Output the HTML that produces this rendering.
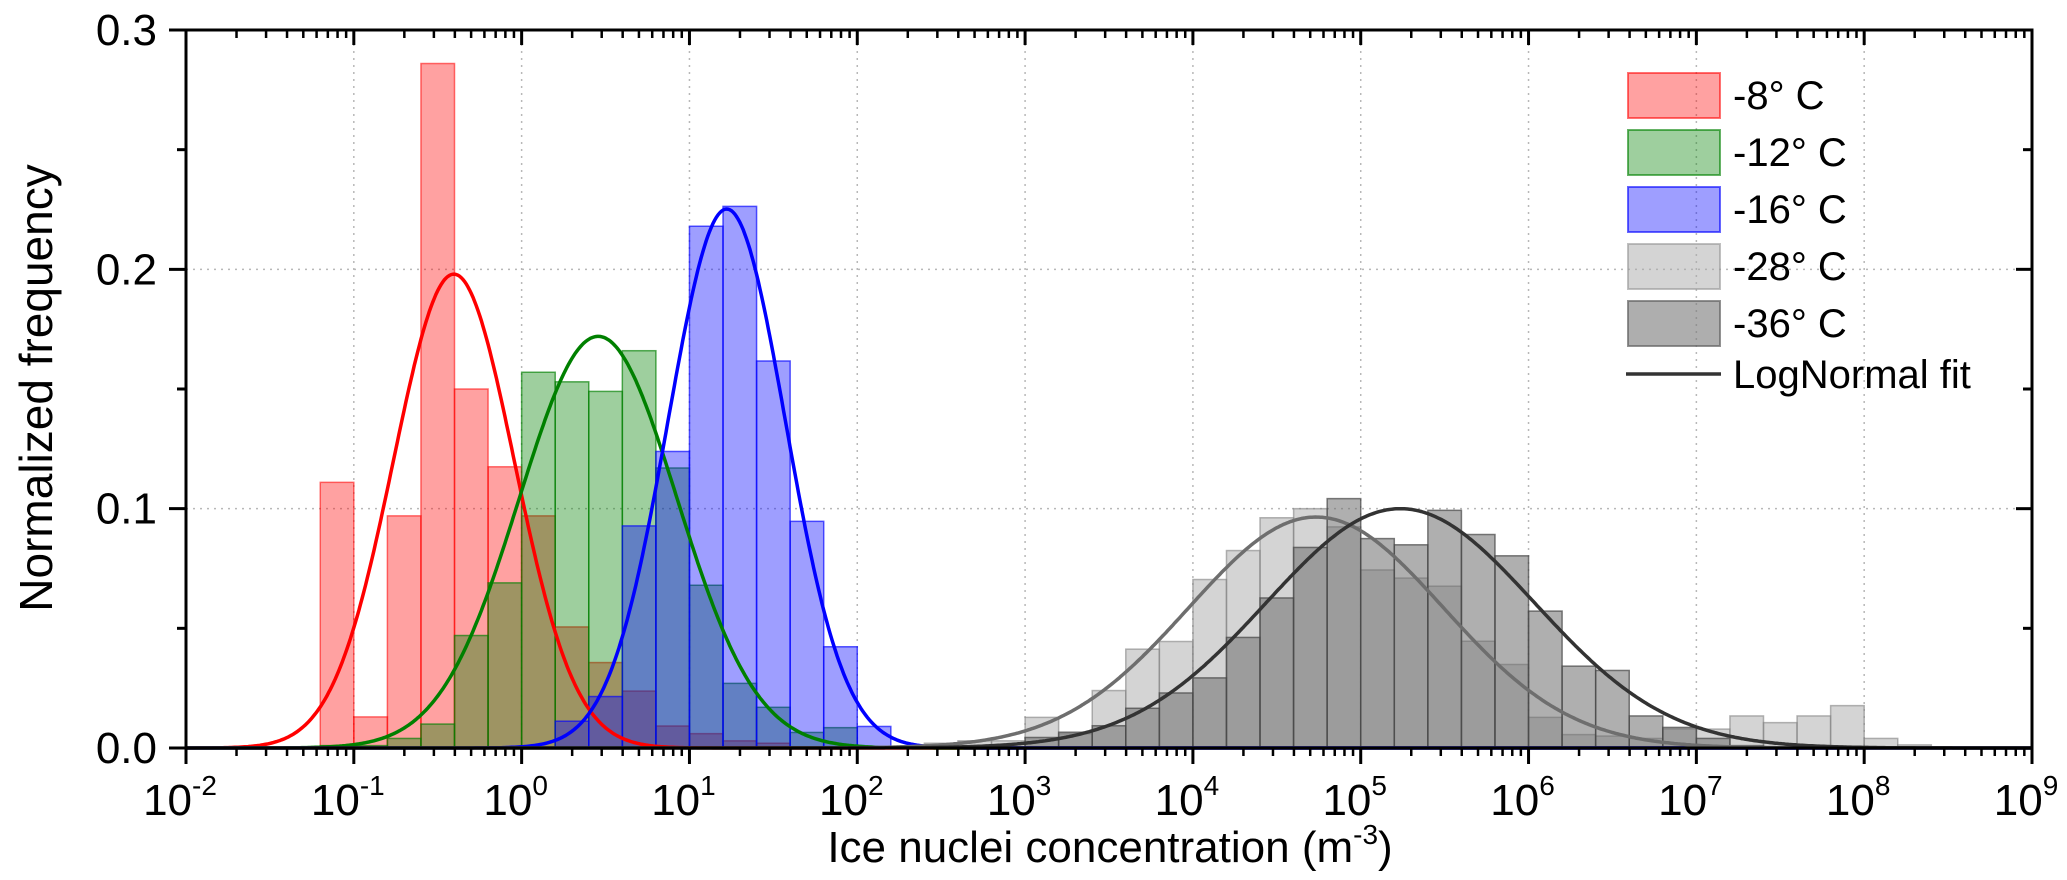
<!DOCTYPE html>
<html><head><meta charset="utf-8"><style>
html,body{margin:0;padding:0;background:#fff;}
svg{display:block;font-family:"Liberation Sans",Arial,sans-serif;}
</style></head><body>
<svg id="chart" width="2067" height="880" viewBox="0 0 2067 880" xmlns="http://www.w3.org/2000/svg">
<g id="grid"></g>
<g id="bars"></g>
<g id="fits"></g>
<g id="axes"></g>
<text transform="translate(52,388) rotate(-90)" text-anchor="middle" font-size="46">Normalized frequency</text>
<text x="1110" y="862" text-anchor="middle" font-size="44">Ice nuclei concentration (m<tspan font-size="28" dy="-18">-3</tspan><tspan dy="18">)</tspan></text>
<g id="legend"></g>
</svg>
<script>
// ---- data ----
const binWidth = 0.2; // log10 decades per bin
const redStart = -1.2;
const redValues = [0.111,0.013,0.097,0.286,0.150,0.1175,0.097,0.0506,0.0357,0.0238,0.0092,0.006,0.003,0.002];
const greenStart = -1.2;
const greenValues = [0.001,0.001,0.004,0.010,0.047,0.069,0.157,0.153,0.149,0.166,0.117,0.068,0.027,0.017,0.0065,0.0085];
const blueStart = 0.2;
const blueValues = [0.0112,0.0215,0.0928,0.1239,0.218,0.2263,0.1617,0.0947,0.0423,0.009];
const g28Start = 2.4;
const g28Values = [0.002,0.003,0.003,0.0128,0.006,0.024,0.0413,0.0445,0.0704,0.0825,0.0962,0.1,0.0924,0.0744,0.071,0.0676,0.0446,0.0349,0.0128,0.0056,0.005,0.004,0.008,0.0079,0.0134,0.0106,0.0134,0.0177,0.004,0.0013];
const g36Start = 3.0;
const g36Values = [0.0044,0.0066,0.0093,0.0166,0.023,0.0293,0.0462,0.0627,0.0838,0.1042,0.0875,0.0849,0.0993,0.0892,0.0803,0.0572,0.0342,0.0324,0.0134,0.0086,0.004,0.001,0.0005];
const fitMu = [-0.404,0.456,1.222,4.734,5.236];
const fitSigma = [0.36,0.47,0.35,0.76,0.80];
const fitPeak = [0.198,0.172,0.2252,0.0965,0.1];
const xTickExps = [-2,-1,0,1,2,3,4,5,6,7,8,9];
const yTickLabels = ["0.0","0.1","0.2","0.3"];
const legendLabels = ["-8° C","-12° C","-16° C","-28° C","-36° C","LogNormal fit"];

// ---- layout ----
const L=186, R=2032, T=30, B=748;
const xMin=-2, xMax=9, yMax=0.3;
const X = e => L + (e - xMin)/(xMax - xMin)*(R-L);
const Y = v => B - v/yMax*(B-T);
const NS="http://www.w3.org/2000/svg";
function mk(tag, attrs, parent){const el=document.createElementNS(NS,tag);for(const k in attrs)el.setAttribute(k,attrs[k]);parent.appendChild(el);return el;}
const grid=document.getElementById('grid'), bars=document.getElementById('bars'), fits=document.getElementById('fits'), axes=document.getElementById('axes'), legend=document.getElementById('legend');

// grid
xTickExps.slice(1,-1).forEach(e=>{
  const l=mk('line',{x1:X(e),x2:X(e),y1:T,y2:B,stroke:'#b8b8b8','stroke-width':1.5,'stroke-dasharray':'2,5'},grid);
  
  
});
[0.1,0.2].forEach(v=>{
  const l=mk('line',{x1:L,x2:R,y1:Y(v),y2:Y(v),stroke:'#b8b8b8','stroke-width':1.5,'stroke-dasharray':'2,5'},grid);
  
  
});

// bars
const series=[
  {name:'red-8c',start:redStart,vals:redValues,fill:'rgba(255,0,0,0.37)',stroke:'rgba(255,0,0,0.55)'},
  {name:'green-12c',start:greenStart,vals:greenValues,fill:'rgba(0,128,0,0.38)',stroke:'rgba(0,128,0,0.65)'},
  {name:'blue-16c',start:blueStart,vals:blueValues,fill:'rgba(0,0,255,0.38)',stroke:'rgba(0,0,255,0.65)'},
  {name:'gray-28c',start:g28Start,vals:g28Values,fill:'rgba(160,160,160,0.45)',stroke:'rgba(130,130,130,0.6)'},
  {name:'gray-36c',start:g36Start,vals:g36Values,fill:'rgba(110,110,110,0.55)',stroke:'rgba(70,70,70,0.7)'}
];
series.forEach(s=>{
  s.vals.forEach((v,i)=>{
    const a=s.start+i*binWidth, b=a+binWidth;
    const r=mk('rect',{x:X(a),y:Y(v),width:X(b)-X(a),height:B-Y(v),fill:s.fill,stroke:s.stroke,'stroke-width':1.5},bars);
    
    
  });
});

// fits
const fitColors=['#ff0000','#008000','#0000ff','#6e6e6e','#333333'];
fitMu.forEach((mu,k)=>{
  let d='';
  for(let i=0;i<=1100;i++){
    const e=xMin+i*(xMax-xMin)/1100;
    const v=fitPeak[k]*Math.exp(-Math.pow(e-mu,2)/(2*fitSigma[k]*fitSigma[k]));
    d+=(i?'L':'M')+X(e).toFixed(1)+','+Y(v).toFixed(1);
  }
  const p=mk('path',{d:d,fill:'none',stroke:fitColors[k],'stroke-width':3.5},fits);
  
  
});

// axes frame
const frame=mk('rect',{x:L,y:T,width:R-L,height:B-T,fill:'none',stroke:'#000','stroke-width':3},axes);


// x ticks
xTickExps.forEach((e,i)=>{
  const x=X(e);
  mk('line',{x1:x,x2:x,y1:B,y2:B+16,stroke:'#000','stroke-width':3},axes);
  mk('line',{x1:x,x2:x,y1:T,y2:T+15,stroke:'#000','stroke-width':3},axes);
  const t=mk('text',{x:x-6,y:815,'text-anchor':'middle','font-size':44},axes);
  
  
  t.innerHTML='10<tspan font-size="28" dy="-20">'+e+'</tspan>';
  if(i<xTickExps.length-1){
    for(let m=2;m<=9;m++){
      const xm=X(e+Math.log10(m));
      mk('line',{x1:xm,x2:xm,y1:B,y2:B+8,stroke:'#000','stroke-width':2.5},axes);
      mk('line',{x1:xm,x2:xm,y1:T,y2:T+8,stroke:'#000','stroke-width':2.5},axes);
    }
  }
});
// y ticks
yTickLabels.forEach((lab,i)=>{
  const v=i*0.1, y=Y(v);
  mk('line',{x1:L-17,x2:L,y1:y,y2:y,stroke:'#000','stroke-width':3},axes);
  mk('line',{x1:R-16,x2:R,y1:y,y2:y,stroke:'#000','stroke-width':3},axes);
  const t=mk('text',{x:157,y:y+15,'text-anchor':'end','font-size':44},axes);
  
  
  t.textContent=lab;
  if(i<yTickLabels.length-1){
    const ym=Y(v+0.05);
    mk('line',{x1:L-9,x2:L,y1:ym,y2:ym,stroke:'#000','stroke-width':3},axes);
    mk('line',{x1:R-9,x2:R,y1:ym,y2:ym,stroke:'#000','stroke-width':3},axes);
  }
});

// legend
const legFill=['rgba(255,0,0,0.37)','rgba(0,128,0,0.38)','rgba(0,0,255,0.38)','rgba(170,170,170,0.5)','rgba(120,120,120,0.6)'];
const legStroke=['rgba(255,0,0,0.55)','rgba(0,128,0,0.6)','rgba(0,0,255,0.6)','rgba(150,150,150,0.6)','rgba(100,100,100,0.7)'];
legendLabels.forEach((lab,i)=>{
  const yc=95+i*57;
  if(i<5){
    const r=mk('rect',{x:1628,y:yc-22,width:92,height:45,fill:legFill[i],stroke:legStroke[i],'stroke-width':2},legend);
    
    
  } else {
    const l=mk('line',{x1:1626,x2:1721,y1:374,y2:374,stroke:'#333','stroke-width':3.5},legend);
    
    
  }
  const t=mk('text',{x:1733,y:(i<5?yc+14:388),'font-size':40},legend);
  
  
  t.textContent=lab;
});
</script>
</body></html>
